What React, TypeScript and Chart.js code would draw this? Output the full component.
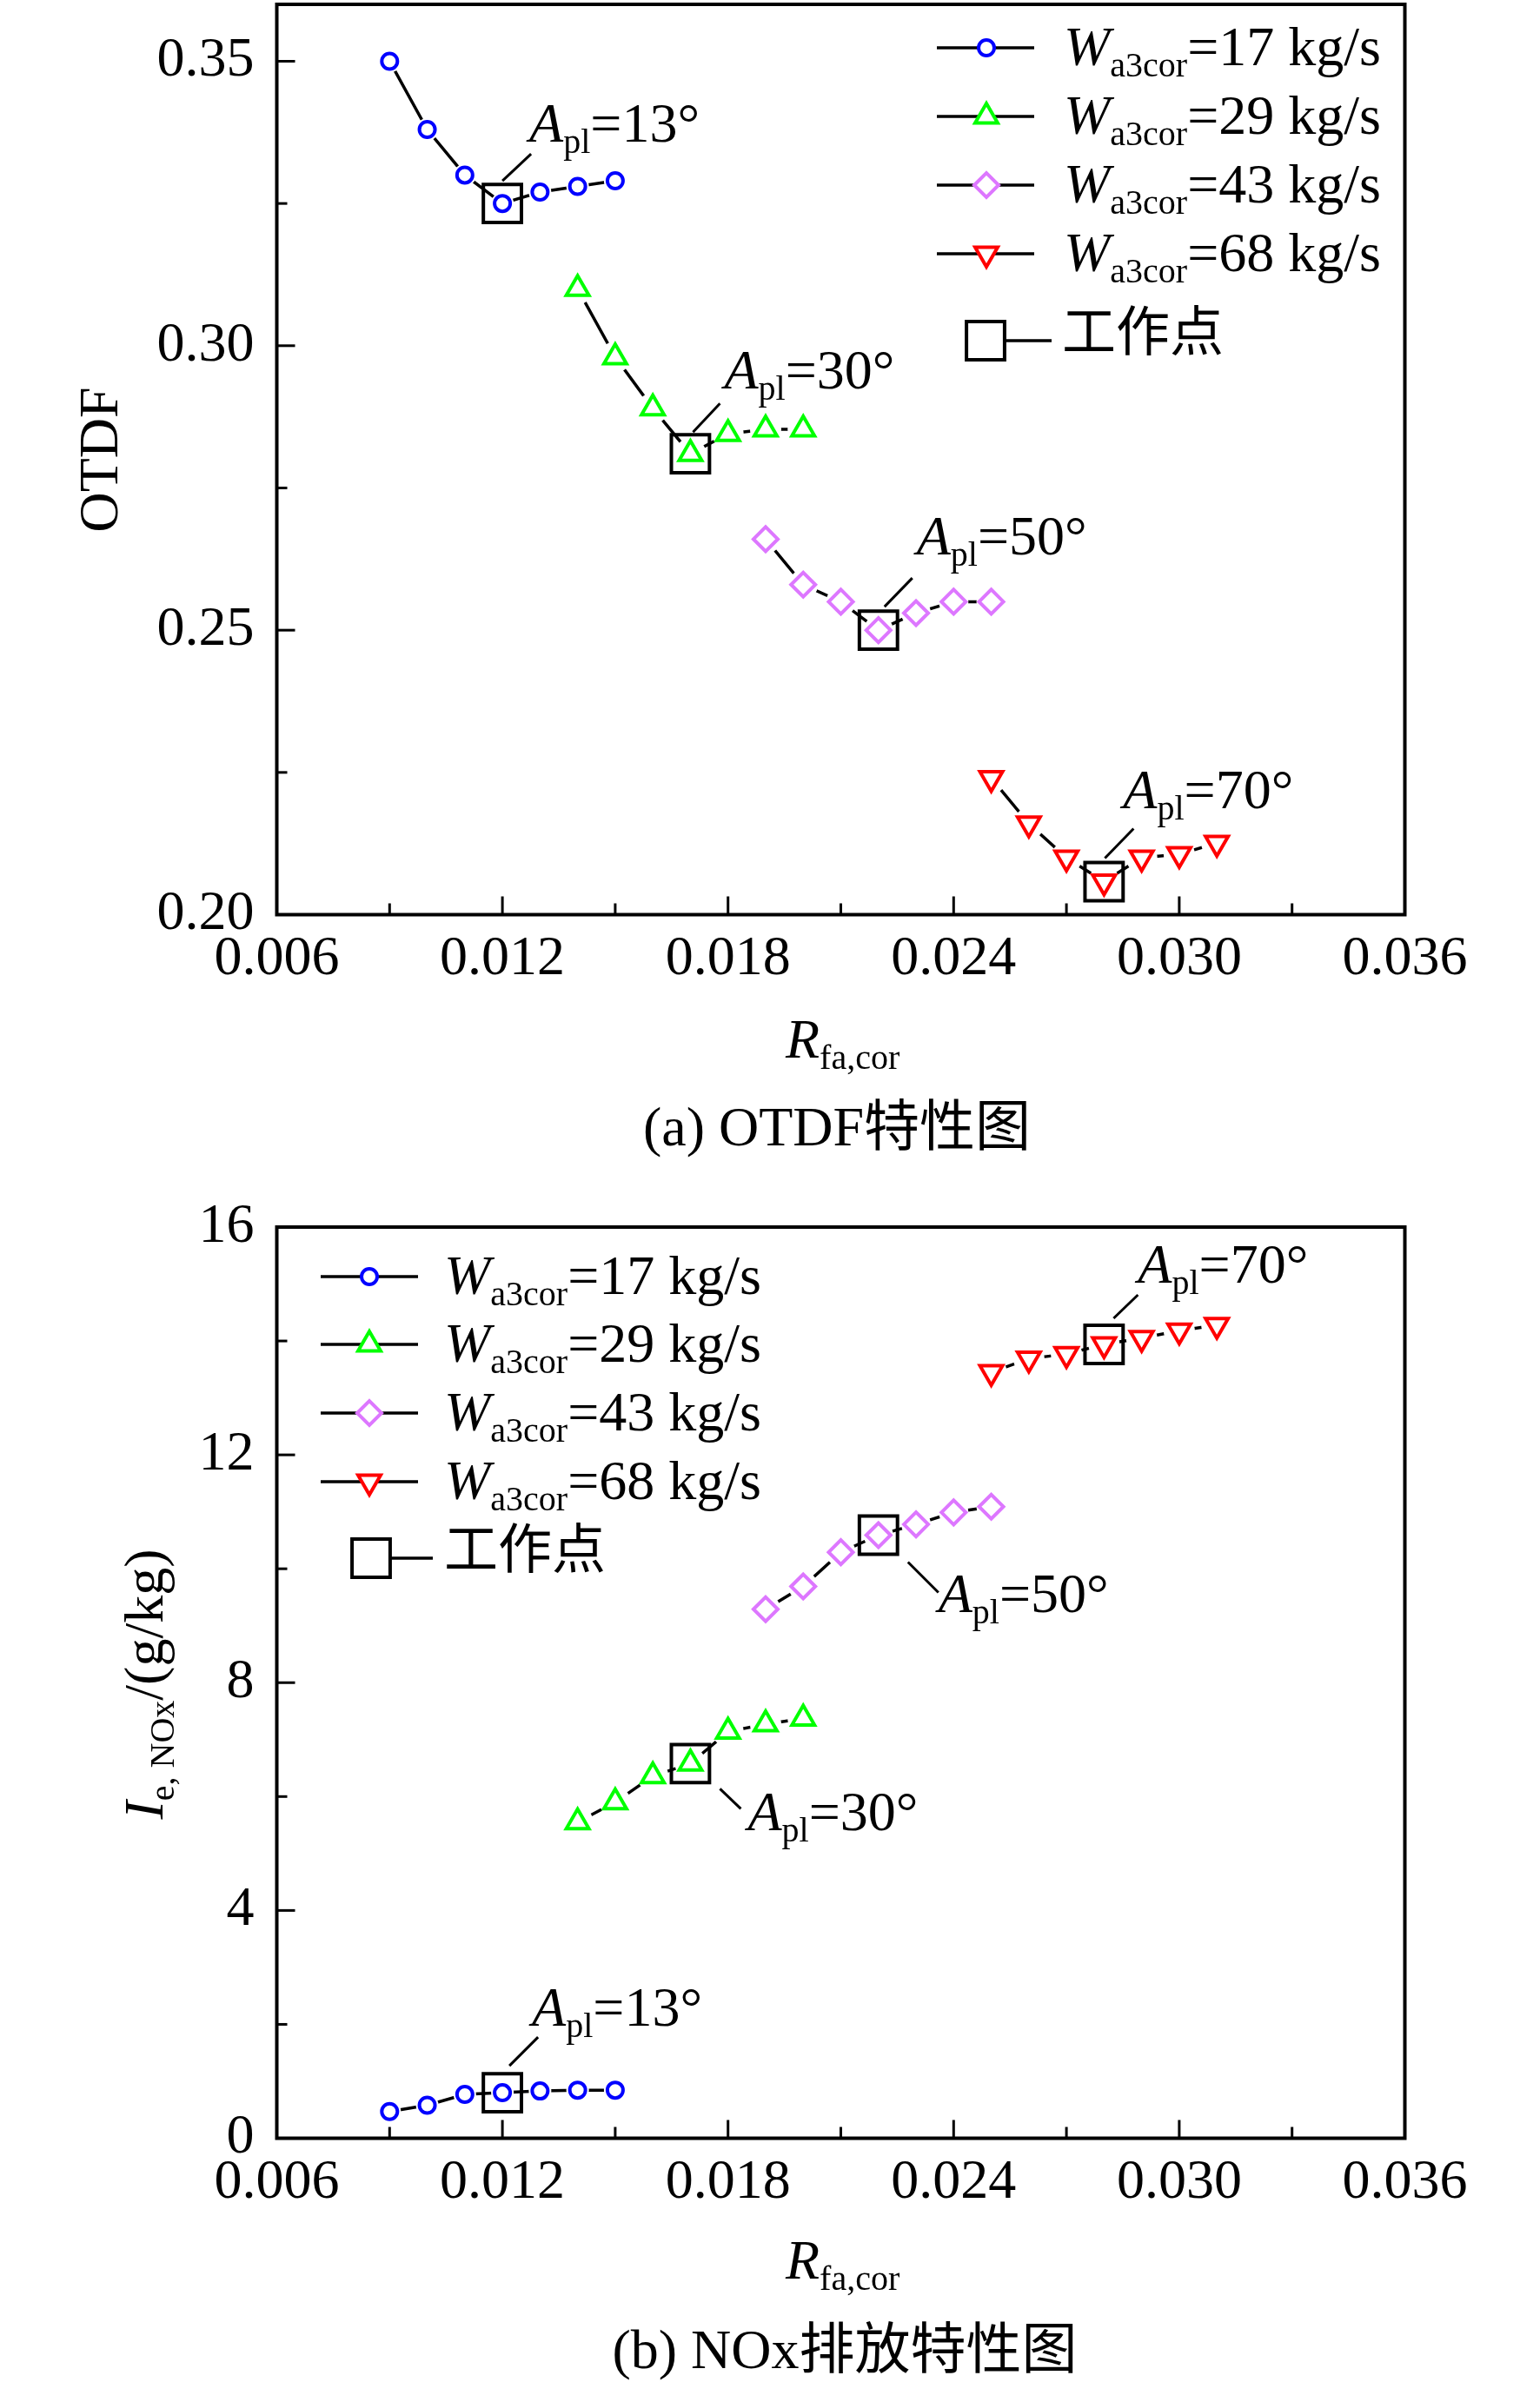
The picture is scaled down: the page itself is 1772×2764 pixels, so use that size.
import React, { useEffect, useRef } from "react";
import { Chart, registerables } from "chart.js";

Chart.register(...registerables);

// ---------------- data ----------------
const flowLabels = ["17", "29", "43", "68"]; // W_a3cor, kg/s
const angleLabels = ["13°", "30°", "50°", "70°"]; // A_pl at working point
const workIndex = 3; // index of the working point in each series

const rfa17 = [0.009, 0.01, 0.011, 0.012, 0.013, 0.014, 0.015];
const rfa29 = [0.014, 0.015, 0.016, 0.017, 0.018, 0.019, 0.02];
const rfa43 = [0.019, 0.02, 0.021, 0.022, 0.023, 0.024, 0.025];
const rfa68 = [0.025, 0.026, 0.027, 0.028, 0.029, 0.03, 0.031];

const otdf17 = [0.35, 0.338, 0.33, 0.325, 0.327, 0.328, 0.329];
const otdf29 = [0.31, 0.298, 0.289, 0.281, 0.2845, 0.2853, 0.2853];
const otdf43 = [0.266, 0.258, 0.255, 0.25, 0.253, 0.255, 0.255];
const otdf68 = [0.224, 0.216, 0.21, 0.2058, 0.21, 0.2106, 0.2126];

const nox17 = [0.47, 0.58, 0.77, 0.8, 0.83, 0.845, 0.845];
const nox29 = [5.55, 5.9, 6.36, 6.58, 7.14, 7.27, 7.37];
const nox43 = [9.29, 9.69, 10.29, 10.59, 10.78, 10.99, 11.09];
const nox68 = [13.45, 13.69, 13.77, 13.94, 14.05, 14.18, 14.28];

const xTickStep = 0.003;
const xLabelStep = 0.006;
const otdfTickStep = 0.025;
const otdfLabelStep = 0.05;
const noxTickStep = 2;
const noxLabelStep = 4;

// ---------------- style ----------------
const FONT = '"Liberation Serif", "Times New Roman", "Noto Sans CJK SC", serif';
const MAIN = 64;
const SUB = 40;
const SUBDY = 13;

const colors = ["#0000FF", "#00FF00", "#DD77FF", "#FF0000"];
const shapes = ["circle", "triangle", "rectRot", "triangle"];
const rotations = [0, 0, 0, 180];
const radii = [9, 15, 14, 15];
const haloR = [13, 18, 17, 18];

type Seg = [string, "n" | "i" | "s"];

function fontFor(k: string) {
  if (k === "i") return `italic ${MAIN}px ${FONT}`;
  if (k === "s") return `${SUB}px ${FONT}`;
  return `${MAIN}px ${FONT}`;
}

function richWidth(ctx: CanvasRenderingContext2D, segs: Seg[]) {
  let w = 0;
  for (const [t, k] of segs) {
    ctx.font = fontFor(k);
    w += ctx.measureText(t).width;
  }
  return w;
}

function drawRich(ctx: CanvasRenderingContext2D, segs: Seg[], x: number, y: number, align = "left") {
  let cx = align === "center" ? x - richWidth(ctx, segs) / 2 : x;
  ctx.textAlign = "left";
  ctx.textBaseline = "alphabetic";
  ctx.fillStyle = "#000";
  for (const [t, k] of segs) {
    ctx.font = fontFor(k);
    ctx.fillText(t, cx, k === "s" ? y + SUBDY : y);
    cx += ctx.measureText(t).width;
  }
}

function drawMarker(ctx: CanvasRenderingContext2D, shape: string, rot: number, x: number, y: number, r: number, color: string, lw: number) {
  ctx.save();
  ctx.strokeStyle = color;
  ctx.fillStyle = "#fff";
  ctx.lineWidth = lw;
  ctx.beginPath();
  if (shape === "circle") {
    ctx.arc(x, y, r, 0, Math.PI * 2);
  } else if (shape === "triangle") {
    let a = (rot * Math.PI) / 180;
    ctx.moveTo(x + Math.sin(a) * r, y - Math.cos(a) * r);
    a += (2 * Math.PI) / 3;
    ctx.lineTo(x + Math.sin(a) * r, y - Math.cos(a) * r);
    a += (2 * Math.PI) / 3;
    ctx.lineTo(x + Math.sin(a) * r, y - Math.cos(a) * r);
  } else if (shape === "rectRot") {
    ctx.moveTo(x - r, y);
    ctx.lineTo(x, y - r);
    ctx.lineTo(x + r, y);
    ctx.lineTo(x, y + r);
  } else {
    const h = r * Math.SQRT1_2;
    ctx.rect(x - h, y - h, 2 * h, 2 * h);
  }
  ctx.closePath();
  ctx.fill();
  ctx.stroke();
  ctx.restore();
}

function line(ctx: CanvasRenderingContext2D, x0: number, y0: number, x1: number, y1: number) {
  ctx.beginPath();
  ctx.moveTo(x0, y0);
  ctx.lineTo(x1, y1);
  ctx.stroke();
}

const isMult = (v: number, s: number) => Math.abs(v / s - Math.round(v / s)) < 1e-6;

interface Anno { s: [number, number]; e: [number, number]; t: [number, number]; }

interface Panel {
  id: string;
  canvasTop: number; // page y of canvas top
  height: number;
  padTop: number;
  plotBottom: number;
  yMin: number;
  yMax: number;
  yStep: number;
  yLabelStep: number;
  yDecimals: number;
  xArr: number[][];
  yArr: number[][];
  annos: Anno[];
  legend: { x0: number; x1: number; mx: number; tx: number; rows: number[]; sqx: number; sqy: number; sqLineX1: number; sqTextX: number };
  yTitle: { segs: Seg[]; bx: number; cy: number };
  xTitle: { x: number; baseline: number };
  caption: { text: string; cx: number; baseline: number };
}

function buildDatasets(xArr: number[][], yArr: number[][]) {
  const ds: any[] = [];
  for (let i = 0; i < xArr.length; i++) {
    const pts = xArr[i].map((x, j) => ({ x, y: yArr[i][j] }));
    ds.push({ data: pts, showLine: true, borderColor: "#000", borderWidth: 3.5, pointRadius: 0, pointHoverRadius: 0, order: 10 });
    ds.push({
      data: pts, showLine: false, pointStyle: "circle", pointRadius: haloR[i], pointHoverRadius: haloR[i],
      pointBackgroundColor: "#fff", pointBorderColor: "#fff", pointBorderWidth: 0, order: 5,
    });
    ds.push({
      data: pts, showLine: false, pointStyle: shapes[i], pointRotation: rotations[i], pointRadius: radii[i],
      pointHoverRadius: radii[i], pointBorderColor: colors[i], pointBackgroundColor: "rgba(0,0,0,0)",
      pointBorderWidth: 4, order: 2,
    });
  }
  ds.push({
    data: xArr.map((xa, i) => ({ x: xa[workIndex], y: yArr[i][workIndex] })),
    showLine: false, pointStyle: "rect", pointRadius: 31, pointHoverRadius: 31,
    pointBorderColor: "#000", pointBorderWidth: 4, pointBackgroundColor: "rgba(0,0,0,0)", order: 1,
  });
  return ds;
}

function makeConfig(p: Panel): any {
  const decor = {
    id: "decor" + p.id,
    afterDraw(chart: any) {
      const ctx: CanvasRenderingContext2D = chart.ctx;
      const { left, right, top, bottom } = chart.chartArea;
      const xs = chart.scales.x;
      const ys = chart.scales.y;
      ctx.save();
      ctx.strokeStyle = "#000";
      ctx.lineCap = "butt";
      // inward ticks
      ctx.lineWidth = 3;
      xs.ticks.forEach((t: any) => {
        const px = xs.getPixelForValue(t.value);
        const len = t.label ? 21 : 13;
        line(ctx, px, bottom, px, bottom - len);
      });
      ys.ticks.forEach((t: any) => {
        const py = ys.getPixelForValue(t.value);
        const len = t.label ? 21 : 12;
        line(ctx, left, py, left + len, py);
      });
      // frame
      ctx.lineWidth = 4;
      ctx.strokeRect(left, top, right - left, bottom - top);
      // annotations
      ctx.lineWidth = 3;
      p.annos.forEach((a, i) => {
        const px = xs.getPixelForValue(p.xArr[i][workIndex]);
        const py = ys.getPixelForValue(p.yArr[i][workIndex]);
        line(ctx, px + a.s[0], py + a.s[1], px + a.e[0], py + a.e[1]);
        drawRich(ctx, [["A", "i"], ["pl", "s"], ["=" + angleLabels[i], "n"]], px + a.t[0], py + a.t[1]);
      });
      // page-coordinate decorations
      ctx.translate(0, -p.canvasTop);
      // legend
      const L = p.legend;
      L.rows.forEach((y, i) => {
        ctx.lineWidth = 3.5;
        ctx.strokeStyle = "#000";
        line(ctx, L.x0, y, L.x1, y);
        drawMarker(ctx, shapes[i], rotations[i], L.mx, y, radii[i], colors[i], 4);
        drawRich(ctx, [["W", "i"], ["a3cor", "s"], ["=" + flowLabels[i] + " kg/s", "n"]], L.tx, y + 20);
      });
      ctx.lineWidth = 3.5;
      ctx.strokeStyle = "#000";
      const h = 31 * Math.SQRT1_2;
      line(ctx, L.sqx + h, L.sqy, L.sqLineX1, L.sqy);
      drawMarker(ctx, "rect", 0, L.sqx, L.sqy, 31, "#000", 4);
      ctx.font = `${MAIN - 2}px ${FONT}`;
      ctx.fillStyle = "#000";
      ctx.textAlign = "left";
      ctx.textBaseline = "middle";
      ctx.fillText("工作点", L.sqTextX, L.sqy - 4);
      // y title (rotated)
      ctx.save();
      ctx.translate(p.yTitle.bx, p.yTitle.cy);
      ctx.rotate(-Math.PI / 2);
      drawRich(ctx, p.yTitle.segs, 0, 0, "center");
      ctx.restore();
      // x title
      drawRich(ctx, [["R", "i"], ["fa,cor", "s"]], p.xTitle.x, p.xTitle.baseline);
      // caption
      drawRich(ctx, [[p.caption.text, "n"]], p.caption.cx, p.caption.baseline, "center");
      ctx.restore();
    },
  };

  const fitY = (s: any) => {
    s.width = 318.5;
    s.paddingTop = 0; s.paddingBottom = 0; s.paddingLeft = 0; s.paddingRight = 0;
  };
  const fitX = (s: any) => {
    s.height = p.height - p.plotBottom;
    s.paddingTop = 0; s.paddingBottom = 0; s.paddingLeft = 0; s.paddingRight = 0;
  };

  return {
    type: "scatter",
    data: { datasets: buildDatasets(p.xArr, p.yArr) },
    options: {
      animation: false,
      responsive: false,
      devicePixelRatio: 1,
      events: [],
      layout: { padding: { left: 0, top: p.padTop, right: 155.5, bottom: 0 } },
      plugins: { legend: { display: false }, tooltip: { enabled: false } },
      scales: {
        x: {
          type: "linear",
          min: 0.006,
          max: 0.036,
          afterFit: fitX,
          grid: { display: false, drawTicks: false },
          border: { display: false },
          ticks: {
            stepSize: xTickStep,
            includeBounds: false,
            autoSkip: false,
            maxRotation: 0,
            minRotation: 0,
            padding: 13,
            color: "#000",
            font: { family: FONT, size: MAIN },
            callback: (v: number) => (isMult(v, xLabelStep) ? v.toFixed(3) : ""),
          },
        },
        y: {
          type: "linear",
          min: p.yMin,
          max: p.yMax,
          afterFit: fitY,
          grid: { display: false, drawTicks: false },
          border: { display: false },
          ticks: {
            stepSize: p.yStep,
            includeBounds: false,
            autoSkip: false,
            padding: 26,
            color: "#000",
            font: { family: FONT, size: MAIN },
            callback: (v: number) => (isMult(v, p.yLabelStep) ? v.toFixed(p.yDecimals) : ""),
          },
        },
      },
    },
    plugins: [decor],
  };
}

// Panel (a): canvas starts 40px above the page so the plot top can sit 5px from page top
const panelA: Panel = {
  id: "A",
  canvasTop: -40,
  height: 1380,
  padTop: 45,
  plotBottom: 1092.5,
  yMin: 0.2,
  yMax: 0.36,
  yStep: otdfTickStep,
  yLabelStep: otdfLabelStep,
  yDecimals: 2,
  xArr: [rfa17, rfa29, rfa43, rfa68],
  yArr: [otdf17, otdf29, otdf43, otdf68],
  annos: [
    { s: [0, -26], e: [33, -57], t: [31, -71] },
    { s: [3, -25], e: [34, -58], t: [39, -75] },
    { s: [7, -27], e: [39, -60], t: [44, -87] },
    { s: [1, -27], e: [34, -61], t: [22, -85] },
  ],
  legend: { x0: 1078, x1: 1190, mx: 1135, tx: 1224, rows: [55, 134, 213, 292], sqx: 1134, sqy: 392, sqLineX1: 1210, sqTextX: 1222 },
  yTitle: { segs: [["OTDF", "n"]], bx: 135, cy: 529 },
  xTitle: { x: 904, baseline: 1217 },
  caption: { text: "(a) OTDF特性图", cx: 963, baseline: 1318 },
};

const panelB: Panel = {
  id: "B",
  canvasTop: 1340,
  height: 1424,
  padTop: 72,
  plotBottom: 1120.5,
  yMin: 0,
  yMax: 16,
  yStep: noxTickStep,
  yLabelStep: noxLabelStep,
  yDecimals: 0,
  xArr: [rfa17, rfa29, rfa43, rfa68],
  yArr: [nox17, nox29, nox43, nox68],
  annos: [
    { s: [8, -31], e: [41, -64], t: [34, -77] },
    { s: [34, 29], e: [58, 52], t: [66, 77] },
    { s: [34, 31], e: [69, 66], t: [69, 88] },
    { s: [11, -30], e: [39, -57], t: [39, -71] },
  ],
  legend: { x0: 369, x1: 481, mx: 425, tx: 511, rows: [1469, 1547, 1626, 1705], sqx: 427, sqy: 1793, sqLineX1: 498, sqTextX: 511 },
  yTitle: { segs: [["I", "i"], ["e, NOx", "s"], ["/(g/kg)", "n"]], bx: 187, cy: 1938 },
  xTitle: { x: 904, baseline: 2622 },
  caption: { text: "(b) NOx排放特性图", cx: 972, baseline: 2725 },
};

export default function App() {
  const refA = useRef<HTMLCanvasElement>(null);
  const refB = useRef<HTMLCanvasElement>(null);

  useEffect(() => {
    document.body.style.margin = "0";
    const a = new Chart(refA.current as HTMLCanvasElement, makeConfig(panelA));
    const b = new Chart(refB.current as HTMLCanvasElement, makeConfig(panelB));
    return () => {
      a.destroy();
      b.destroy();
    };
  }, []);

  return (
    <div style={{ position: "relative", width: 1772, height: 2764, background: "#fff", overflow: "hidden" }}>
      <canvas
        ref={refA}
        width={1772}
        height={panelA.height}
        style={{ position: "absolute", left: 0, top: panelA.canvasTop, width: 1772, height: panelA.height }}
      />
      <canvas
        ref={refB}
        width={1772}
        height={panelB.height}
        style={{ position: "absolute", left: 0, top: panelB.canvasTop, width: 1772, height: panelB.height }}
      />
    </div>
  );
}
